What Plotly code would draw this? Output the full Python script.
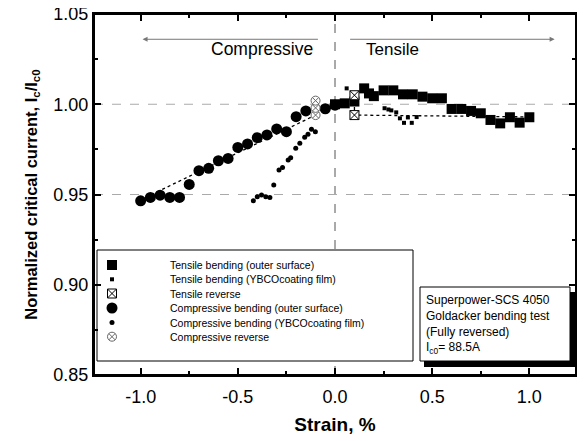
import plotly.graph_objects as go

# ---------------- data ----------------
tens_outer_x = [0.0, 0.05, 0.1, 0.15, 0.175, 0.2, 0.25, 0.3, 0.35, 0.4, 0.45, 0.5, 0.55,
                0.6, 0.65, 0.7, 0.75, 0.8, 0.85, 0.9, 0.95, 1.0]
tens_outer_y = [1.000, 1.0005, 1.0015, 1.0088, 1.006, 1.0045, 1.0077, 1.0077, 1.0055, 1.0055,
                1.0042, 1.0033, 1.0033, 0.9974, 0.9974, 0.9963, 0.995, 0.9913, 0.9894,
                0.9928, 0.9898, 0.9928]

tens_ybco_x = [0.0, 0.06, 0.1, 0.255, 0.275, 0.29, 0.315, 0.334, 0.355, 0.375, 0.395, 0.42]
tens_ybco_y = [1.000, 1.0088, 1.005, 0.9978, 0.9971, 0.9966, 0.9955, 0.9922, 0.9897,
               0.9927, 0.9897, 0.9929]

tens_rev_x = [1.0, 0.1, 0.1]
tens_rev_y = [0.993, 0.994, 1.005]

comp_outer_x = [-1.0, -0.95, -0.9, -0.85, -0.8, -0.75, -0.7, -0.65, -0.6, -0.55, -0.5,
                -0.45, -0.4, -0.35, -0.3, -0.25, -0.2, -0.15, -0.05, 0.0]
comp_outer_y = [0.9465, 0.9484, 0.9496, 0.9484, 0.9484, 0.9556, 0.9632, 0.9645, 0.9687,
                0.970, 0.9761, 0.978, 0.9815, 0.983, 0.9863, 0.9848, 0.9931, 0.9963,
                0.9975, 0.9995]

comp_ybco_x = [-0.42, -0.40, -0.378, -0.356, -0.335, -0.315, -0.288, -0.27, -0.241, -0.228,
               -0.202, -0.181, -0.156, -0.139, -0.121, -0.101]
comp_ybco_y = [0.9466, 0.9488, 0.9497, 0.9488, 0.9484, 0.9553, 0.9636, 0.965, 0.9691,
               0.9704, 0.9756, 0.9784, 0.9817, 0.9834, 0.9861, 0.9848]

comp_rev_x = [-1.0, -0.1, -0.1, -0.1]
comp_rev_y = [0.947, 0.994, 0.998, 1.002]

legend_labels = ["Tensile bending (outer surface)",
                 "Tensile bending (YBCOcoating film)",
                 "Tensile reverse",
                 "Compressive bending (outer surface)",
                 "Compressive bending (YBCOcoating film)",
                 "Compressive reverse"]

info_lines = ["Superpower-SCS 4050", "Goldacker bending test", "(Fully reversed)",
              "I<sub>c0</sub>= 88.5A"]

x_ticks = [-1.0, -0.5, 0.0, 0.5, 1.0]
y_ticks = [0.85, 0.90, 0.95, 1.00, 1.05]

# ---------------- layout geometry ----------------
FONT = "Liberation Sans, Arial, sans-serif"
OFF = 8                         # page body margin of the html page
L, R, T, B = 94, 576, 14, 375   # plot area in page pixels
W, H = 585 - OFF, 441 - OFF
XR = [-1.24, 1.24]
YR = [0.85, 1.05]


def px(p):   # page pixel -> paper x
    return (p - L) / (R - L)


def py(p):   # page pixel -> paper y
    return (B - p) / (B - T)


def dx(p):   # page pixel -> data x (for legend symbols)
    return XR[0] + (p - L) / (R - L) * (XR[1] - XR[0])


def dy(p):   # page pixel -> data y (for legend symbols)
    return YR[1] - (p - T) / (B - T) * (YR[1] - YR[0])


styles = [
    dict(symbol="square", size=10, color="black", line=dict(width=0)),
    dict(symbol="square", size=4, color="black", line=dict(width=0)),
    dict(symbol="square-x", size=9, color="white", line=dict(color="black", width=1)),
    dict(symbol="circle", size=11, color="black", line=dict(width=0)),
    dict(symbol="circle", size=5, color="black", line=dict(width=0)),
    dict(symbol="circle-x", size=9, color="white", line=dict(color="#666", width=1)),
]

fig = go.Figure()

# reverse dotted paths
fig.add_trace(go.Scatter(x=tens_rev_x, y=tens_rev_y, mode="lines",
                         line=dict(color="black", width=1.3, dash="dot"), showlegend=False))
fig.add_trace(go.Scatter(x=comp_rev_x, y=comp_rev_y, mode="lines",
                         line=dict(color="black", width=1.3, dash="dot"), showlegend=False))

fig.add_trace(go.Scatter(x=comp_outer_x, y=comp_outer_y, mode="markers", marker=styles[3], showlegend=False))
fig.add_trace(go.Scatter(x=comp_ybco_x, y=comp_ybco_y, mode="markers", marker=styles[4], showlegend=False))
fig.add_trace(go.Scatter(x=tens_outer_x, y=tens_outer_y, mode="markers", marker=styles[0], showlegend=False))
fig.add_trace(go.Scatter(x=tens_ybco_x, y=tens_ybco_y, mode="markers", marker=styles[1], showlegend=False))
fig.add_trace(go.Scatter(x=[tens_rev_x[1], tens_rev_x[2]], y=[tens_rev_y[1], tens_rev_y[2]],
                         mode="markers", marker=styles[2], showlegend=False))
fig.add_trace(go.Scatter(x=comp_rev_x[1:], y=comp_rev_y[1:], mode="markers", marker=styles[5], showlegend=False))

# ---------------- reference lines (drawn first so boxes cover them) ----------------
shapes = []
shapes.append(dict(type="line", xref="x", yref="paper", x0=0, x1=0, y0=0, y1=1,
                   line=dict(color="#555", width=1, dash="dash"), layer="below"))
for yv in (1.0, 0.95):
    shapes.append(dict(type="line", xref="paper", yref="y", x0=0, x1=1, y0=yv, y1=yv,
                       line=dict(color="#aaa", width=1, dash="dash"), layer="below"))

# ---------------- custom legend ----------------
leg_y = [265, 279.3, 293.5, 308, 322.5, 336.7]
shapes.append(dict(type="rect", xref="paper", yref="paper", x0=px(97), x1=px(413),
                   y0=py(361), y1=py(250), line=dict(color="black", width=1),
                   fillcolor="white", layer="below"))
# info box with shadow
shapes.append(dict(type="rect", xref="paper", yref="paper", x0=px(424), x1=px(575),
                   y0=py(367), y1=py(292), line=dict(width=0), fillcolor="black", layer="below"))
shapes.append(dict(type="rect", xref="paper", yref="paper", x0=px(420), x1=px(570),
                   y0=py(361), y1=py(287), line=dict(color="black", width=1),
                   fillcolor="white", layer="below"))
# plot frame
shapes.append(dict(type="rect", xref="paper", yref="paper", x0=0, x1=1, y0=0, y1=1,
                   line=dict(color="black", width=2), fillcolor="rgba(0,0,0,0)", layer="above"))

for i, lab in enumerate(legend_labels):
    fig.add_trace(go.Scatter(x=[dx(112)], y=[dy(leg_y[i])], mode="markers", marker=styles[i],
                             showlegend=False))

annotations = []
for i, lab in enumerate(legend_labels):
    annotations.append(dict(x=px(168), y=py(leg_y[i]), xref="paper", yref="paper", text=lab,
                            showarrow=False, xanchor="left", yanchor="middle",
                            font=dict(family=FONT, size=10.5, color="black")))
for i, t in enumerate(info_lines):
    annotations.append(dict(x=px(424), y=py([300, 316, 332, 348][i]), xref="paper", yref="paper",
                            text=t, showarrow=False, xanchor="left", yanchor="middle",
                            font=dict(family=FONT, size=12, color="black")))

# direction arrows and labels
annotations.append(dict(x=-0.99, y=1.036, ax=-0.08, ay=1.036, xref="x", yref="y",
                        axref="x", ayref="y", showarrow=True, arrowhead=2, arrowsize=1,
                        arrowwidth=1, arrowcolor="#777", text=""))
annotations.append(dict(x=1.13, y=1.036, ax=0.07, ay=1.036, xref="x", yref="y",
                        axref="x", ayref="y", showarrow=True, arrowhead=2, arrowsize=1,
                        arrowwidth=1, arrowcolor="#777", text=""))
annotations.append(dict(x=-0.105, y=1.0305, xref="x", yref="y", text="Compressive", showarrow=False,
                        xanchor="right", yanchor="middle", font=dict(family=FONT, size=17.5, color="black")))
annotations.append(dict(x=0.15, y=1.0305, xref="x", yref="y", text="Tensile", showarrow=False,
                        xanchor="left", yanchor="middle", font=dict(family=FONT, size=17, color="black")))

axis_common = dict(showline=True, linecolor="black", linewidth=2, mirror="ticks",
                   ticks="inside", ticklen=7, tickwidth=2, tickcolor="black",
                   showgrid=False, zeroline=False, ticklabeloverflow="allow",
                   tickfont=dict(family=FONT, size=18, color="black"))

fig.update_layout(
    width=W, height=H,
    margin=dict(l=L - OFF, r=585 - R, t=T - OFF, b=441 - B, autoexpand=False),
    paper_bgcolor="white", plot_bgcolor="white",
    showlegend=False,
    xaxis=dict(range=XR, tickvals=x_ticks, ticktext=[f"{v:.1f}" for v in x_ticks],
               minor=dict(dtick=0.25, tick0=0, ticks="inside", ticklen=4, tickwidth=1.5,
                          tickcolor="black"),
               ticklabelstandoff=4,
               title=dict(text="<b>Strain, %</b>", font=dict(family=FONT, size=19, color="black"),
                          standoff=12),
               **axis_common),
    yaxis=dict(range=YR, tickvals=y_ticks, ticktext=[f"{v:.2f}" for v in y_ticks],
               minor=dict(dtick=0.025, tick0=0.85, ticks="inside", ticklen=4, tickwidth=1.5,
                          tickcolor="black"),
               title=dict(text="<b>Normalized critical current, I<sub>c</sub>/I<sub>c0</sub></b>",
                          font=dict(family=FONT, size=16.5, color="black"), standoff=12),
               **axis_common),
    shapes=shapes,
    annotations=annotations,
)

fig.write_html("out.html")
